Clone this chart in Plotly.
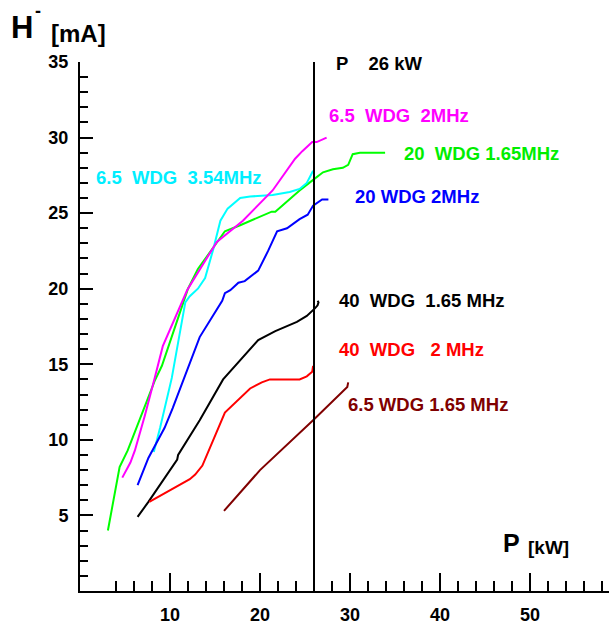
import plotly.graph_objects as go

# ---- data (P [kW], H- [mA]) ----
wdg20_165_x = [3.1, 4.2, 4.4, 5.3, 6.3, 8.3, 9.1, 12.0, 13.1, 14.7, 16.1, 17.8, 21.3, 21.7, 24.4, 25.9, 27.0, 28.1, 29.2, 29.8, 30.3, 31.1, 33.9]
wdg20_165_y = [4.0, 7.7, 8.2, 9.3, 10.8, 13.9, 14.9, 20.0, 21.3, 22.6, 23.8, 24.2, 25.1, 25.1, 26.5, 27.2, 27.7, 27.9, 28.0, 28.2, 28.9, 29.0, 29.0]

wdg65_2_x = [4.7, 5.6, 6.1, 7.2, 8.3, 9.2, 11.9, 15.2, 18.1, 21.4, 23.9, 24.7, 25.8, 26.3, 27.4]
wdg65_2_y = [7.5, 8.5, 9.3, 11.6, 14.1, 16.2, 19.9, 23.1, 24.5, 26.5, 28.6, 29.1, 29.7, 29.7, 30.0]

wdg65_354_x = [8.2, 8.9, 10.2, 11.7, 12.2, 13.1, 13.9, 14.8, 15.6, 16.4, 17.8, 18.9, 21.4, 23.3, 24.4, 25.2, 25.9]
wdg65_354_y = [9.2, 10.8, 14.1, 19.1, 19.5, 20.0, 20.7, 22.6, 24.5, 25.3, 26.0, 26.1, 26.2, 26.4, 26.6, 27.0, 27.8]

wdg20_2_x = [6.4, 7.6, 9.4, 10.3, 13.3, 15.8, 16.1, 16.7, 17.6, 18.3, 19.8, 20.9, 21.9, 23.0, 24.4, 25.3, 25.9, 26.9, 27.6]
wdg20_2_y = [7.0, 8.8, 10.8, 12.1, 16.8, 19.2, 19.7, 19.9, 20.4, 20.5, 21.2, 22.5, 23.8, 24.0, 24.6, 24.9, 25.5, 25.9, 25.9]

wdg40_165_x = [6.4, 7.6, 10.8, 10.9, 13.3, 15.9, 19.8, 21.7, 24.1, 25.2, 26.1, 26.4, 26.5, 26.4]
wdg40_165_y = [4.9, 5.9, 8.7, 9.0, 11.3, 14.0, 16.6, 17.2, 17.8, 18.2, 18.7, 18.9, 19.1, 19.2]

wdg40_2_x = [7.7, 12.2, 12.8, 13.6, 16.1, 18.9, 20.2, 21.1, 24.4, 25.2, 25.8, 25.9]
wdg40_2_y = [5.9, 7.4, 7.7, 8.3, 11.8, 13.4, 13.8, 14.0, 14.0, 14.2, 14.5, 14.9]

wdg65_165_x = [16.0, 20.0, 25.9, 29.7, 29.8]
wdg65_165_y = [5.3, 8.0, 11.3, 13.5, 13.8]

series = [
    (wdg20_165_x, wdg20_165_y, "#00ff00", "20  WDG 1.65MHz"),
    (wdg65_354_x, wdg65_354_y, "#00ffff", "6.5  WDG  3.54MHz"),
    (wdg65_2_x, wdg65_2_y, "#ff00ff", "6.5  WDG  2MHz"),
    (wdg20_2_x, wdg20_2_y, "#0000ff", "20 WDG 2MHz"),
    (wdg40_165_x, wdg40_165_y, "#000000", "40  WDG  1.65 MHz"),
    (wdg40_2_x, wdg40_2_y, "#ff0000", "40  WDG   2 MHz"),
    (wdg65_165_x, wdg65_165_y, "#800000", "6.5 WDG 1.65 MHz"),
]

x_major = [10, 20, 30, 40, 50]
x_minor = [v for v in range(4, 59, 2) if v % 10 != 0]
y_major = [5, 10, 15, 20, 25, 30, 35]
y_minor = [v for v in range(1, 35) if v % 5 != 0]

FONT = "Liberation Sans, Arial, sans-serif"

fig = go.Figure()
for xs, ys, col, name in series:
    fig.add_trace(go.Scatter(x=xs, y=ys, mode="lines", name=name,
                             line=dict(color=col, width=2), showlegend=False))

fig.add_shape(type="line", x0=26, x1=26, y0=0, y1=35, xref="x", yref="y",
              line=dict(color="black", width=2))

# labels
labels = [
    ("6.5  WDG  2MHz", "#ff00ff", 27.4, 31.45),
    ("20  WDG 1.65MHz", "#00ee00", 35.8, 28.95),
    ("20 WDG 2MHz", "#0000ff", 30.3, 26.12),
    ("6.5  WDG  3.54MHz", "#00eeff", 1.5, 27.37),
    ("40  WDG  1.65 MHz", "#000000", 28.5, 19.2),
    ("40  WDG   2 MHz", "#ff0000", 28.5, 16.0),
    ("6.5 WDG 1.65 MHz", "#800000", 29.6, 12.37),
    ("P    26 kW", "#000000", 28.2, 34.9),
]
for txt, col, x, y in labels:
    fig.add_annotation(x=x, y=y, xref="x", yref="y", text=txt, showarrow=False,
                       xanchor="left", yanchor="middle",
                       font=dict(family=FONT, size=18.5, color=col, weight="bold"))

fig.add_annotation(x=-0.134, y=1.066, xref="paper", yref="paper", text="H", showarrow=False,
                   xanchor="left", yanchor="middle",
                   font=dict(family=FONT, size=31, color="black", weight="bold"))
fig.add_annotation(x=-0.089, y=1.097, xref="paper", yref="paper", text="-", showarrow=False,
                   xanchor="left", yanchor="middle",
                   font=dict(family=FONT, size=18, color="black", weight="bold"))
fig.add_annotation(x=-0.058, y=1.053, xref="paper", yref="paper", text="[mA]", showarrow=False,
                   xanchor="left", yanchor="middle",
                   font=dict(family=FONT, size=24, color="black", weight="bold"))
fig.add_annotation(x=46.8, y=3.16, xref="x", yref="y", text="P", showarrow=False,
                   xanchor="left", yanchor="middle",
                   font=dict(family=FONT, size=25, color="black", weight="bold"))
fig.add_annotation(x=49.5, y=2.9, xref="x", yref="y", text="[kW]", showarrow=False,
                   xanchor="left", yanchor="middle",
                   font=dict(family=FONT, size=19, color="black", weight="bold"))

tickfont = dict(family=FONT, size=18, color="black", weight="bold")
fig.update_layout(
    width=609, height=625,
    margin=dict(l=80, r=0, t=62, b=31),
    paper_bgcolor="white", plot_bgcolor="white",
    xaxis=dict(range=[0, 529 / 9], showgrid=False, zeroline=False,
               showline=True, linecolor="black", linewidth=2,
               ticks="inside", ticklen=18, tickwidth=2, tickcolor="black",
               tickmode="array", tickvals=x_major, ticktext=[str(v) for v in x_major],
               tickfont=tickfont, ticklabelstandoff=6,
               minor=dict(tickmode="array", tickvals=x_minor, ticks="inside",
                          ticklen=10, tickwidth=2, tickcolor="black", showgrid=False)),
    yaxis=dict(range=[0, 35], showgrid=False, zeroline=False,
               showline=True, linecolor="black", linewidth=2,
               ticks="inside", ticklen=13, tickwidth=2, tickcolor="black",
               tickmode="array", tickvals=y_major, ticktext=[str(v) for v in y_major],
               tickfont=tickfont, ticklabelstandoff=6,
               minor=dict(tickmode="array", tickvals=y_minor, ticks="inside",
                          ticklen=8, tickwidth=2, tickcolor="black", showgrid=False)),
)

fig.write_html("out.html")
